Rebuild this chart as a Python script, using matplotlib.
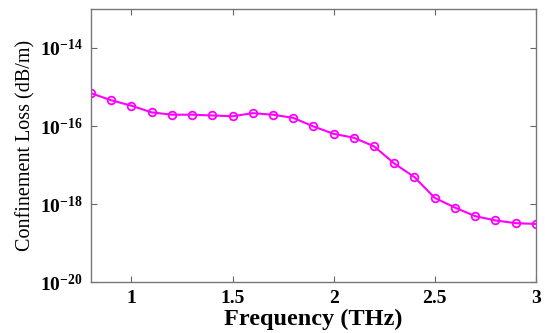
import matplotlib
matplotlib.use("Agg")
import matplotlib.pyplot as plt
from matplotlib.ticker import FixedLocator, FixedFormatter

# Frequency (THz) and confinement loss (dB/m)
freq = [0.8, 0.9, 1.0, 1.1, 1.2, 1.3, 1.4, 1.5, 1.6, 1.7, 1.8, 1.9,
        2.0, 2.1, 2.2, 2.3, 2.4, 2.5, 2.6, 2.7, 2.8, 2.9, 3.0]
loss_exp = [-15.16, -15.34, -15.48, -15.65, -15.71, -15.71, -15.73, -15.75,
            -15.67, -15.71, -15.79, -16.01, -16.20, -16.30, -16.52, -16.96,
            -17.31, -17.84, -18.09, -18.31, -18.42, -18.49, -18.51]
loss = [10 ** e for e in loss_exp]

x_ticks = [1, 1.5, 2, 2.5, 3]
x_labels = ["1", "1.5", "2", "2.5", "3"]
y_ticks = [1e-20, 1e-18, 1e-16, 1e-14]
y_labels = [r"$\mathbf{10^{-20}}$", r"$\mathbf{10^{-18}}$",
            r"$\mathbf{10^{-16}}$", r"$\mathbf{10^{-14}}$"]

plt.rcParams["font.family"] = "Liberation Serif"
plt.rcParams["font.weight"] = "bold"
plt.rcParams["mathtext.fontset"] = "custom"
plt.rcParams["mathtext.rm"] = "Liberation Serif:bold"
plt.rcParams["mathtext.bf"] = "Liberation Serif:bold"

fig = plt.figure(figsize=(5.45, 3.33), dpi=100)
ax = fig.add_axes([0.167, 0.153, 0.816, 0.820])

ax.plot(freq, loss, color="#ff00ff", linewidth=1.5, marker="o",
        markersize=5.5, markerfacecolor="none", markeredgewidth=1.3)

ax.set_yscale("log")
ax.set_xlim(0.8, 3.0)
ax.set_ylim(1e-20, 1e-13)

ax.xaxis.set_major_locator(FixedLocator(x_ticks))
ax.xaxis.set_major_formatter(FixedFormatter(x_labels))
ax.yaxis.set_major_locator(FixedLocator(y_ticks))
ax.yaxis.set_major_formatter(FixedFormatter(y_labels))
ax.yaxis.set_minor_locator(FixedLocator([]))

ax.tick_params(direction="in", top=True, right=True, length=4,
               color="#666666", labelsize=14, pad=6)
for s in ax.spines.values():
    s.set_color("#777777")
    s.set_linewidth(1.0)

ax.set_xlabel("Frequency (THz)", fontsize=17.5, fontweight="bold", labelpad=1)
ax.set_ylabel("Confinement Loss (dB/m)", fontsize=14.5, fontweight="normal", labelpad=3)

fig.savefig("out.png", dpi=100)
